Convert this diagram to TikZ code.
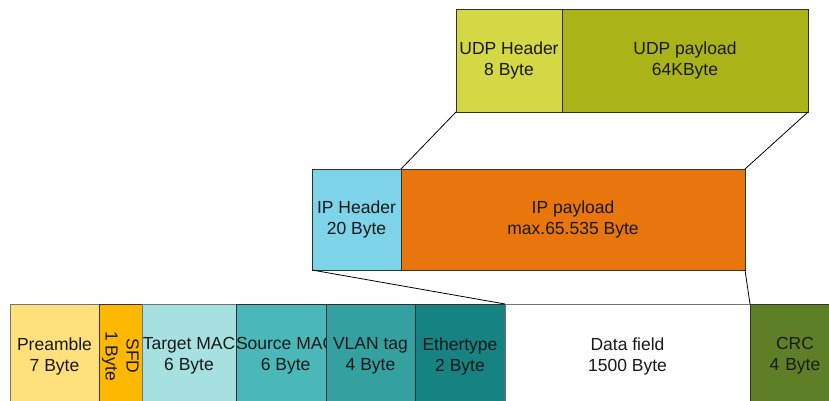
\documentclass[tikz,border=0pt]{standalone}
\usepackage{fontspec}
\setmainfont{Liberation Sans}
\definecolor{cPre}{HTML}{FFE07A}
\definecolor{cSfd}{HTML}{FFB800}
\definecolor{cTmac}{HTML}{A6E0E0}
\definecolor{cSmac}{HTML}{4AB8B8}
\definecolor{cVlan}{HTML}{34A0A0}
\definecolor{cEth}{HTML}{178282}
\definecolor{cCrc}{HTML}{5F7F27}
\definecolor{cIph}{HTML}{7DD3E8}
\definecolor{cIpp}{HTML}{E8760C}
\definecolor{cUdph}{HTML}{D4D844}
\definecolor{cUdpp}{HTML}{AAB418}
\definecolor{cEdge}{HTML}{303030}
\tikzset{
  field/.style={draw=cEdge, line width=0.8pt, inner sep=0pt, outer sep=0pt,
    anchor=north west, align=center, text=black!90,
    font=\fontsize{17.5}{21}\selectfont},
  link/.style={draw=black, line width=0.8pt}
}
\begin{document}
\begin{tikzpicture}[x=1pt, y=-1pt]
\useasboundingbox (0,0) rectangle (829,401);
\clip (0,0) rectangle (829,401);

% Ethernet frame
\node[field, fill=cPre, draw=black!55, minimum width=89pt, minimum height=104pt] (pre) at (10,304) {Preamble\\7 Byte};
\node[field, fill=cSfd, minimum width=43pt, minimum height=104pt] (sfd) at (99,304) {};
\node[rotate=-90, align=center, inner sep=0pt, text=black!90, font=\fontsize{17.5}{21}\selectfont] (sfdtext) at (sfd.center) {SFD\\1 Byte};
\node[field, fill=cTmac, draw=black!55, minimum width=94pt, minimum height=104pt] (tmac) at (142,304) {Target MAC\\6 Byte};
\node[field, fill=cSmac, minimum width=90pt, minimum height=104pt] (smac) at (236,304) {Source MAC\\6 Byte};
\node[field, fill=cVlan, minimum width=89pt, minimum height=104pt] (vlan) at (326,304) {VLAN tag\\4 Byte};
\node[field, fill=cEth, minimum width=90pt, minimum height=104pt] (eth) at (415,304) {Ethertype\\2 Byte};
\node[field, fill=white, draw=black!55, minimum width=245pt, minimum height=104pt] (data) at (505,304) {Data field\\1500 Byte};
\node[field, fill=cCrc, minimum width=90pt, minimum height=104pt, text width=79pt] (crc) at (750,304) {CRC\\4 Byte};

% IP packet
\node[field, fill=cIph, minimum width=89pt, minimum height=101pt] (iph) at (312,169) {IP Header\\20 Byte};
\node[field, fill=cIpp, minimum width=344pt, minimum height=101pt] (ipp) at (401,169) {IP payload\\max.65.535 Byte};

% UDP datagram
\node[field, fill=cUdph, minimum width=106pt, minimum height=103pt] (udph) at (456,9) {UDP Header\\8 Byte};
\node[field, fill=cUdpp, minimum width=246pt, minimum height=103pt] (udpp) at (562,9) {UDP payload\\64KByte};

% Encapsulation lines
\draw[link] (udph.south west) -- (ipp.north west);
\draw[link] (udpp.south east) -- (ipp.north east);
\draw[link] (iph.south west) -- (data.north west);
\draw[link] (ipp.south east) -- (data.north east);
\end{tikzpicture}
\end{document}
